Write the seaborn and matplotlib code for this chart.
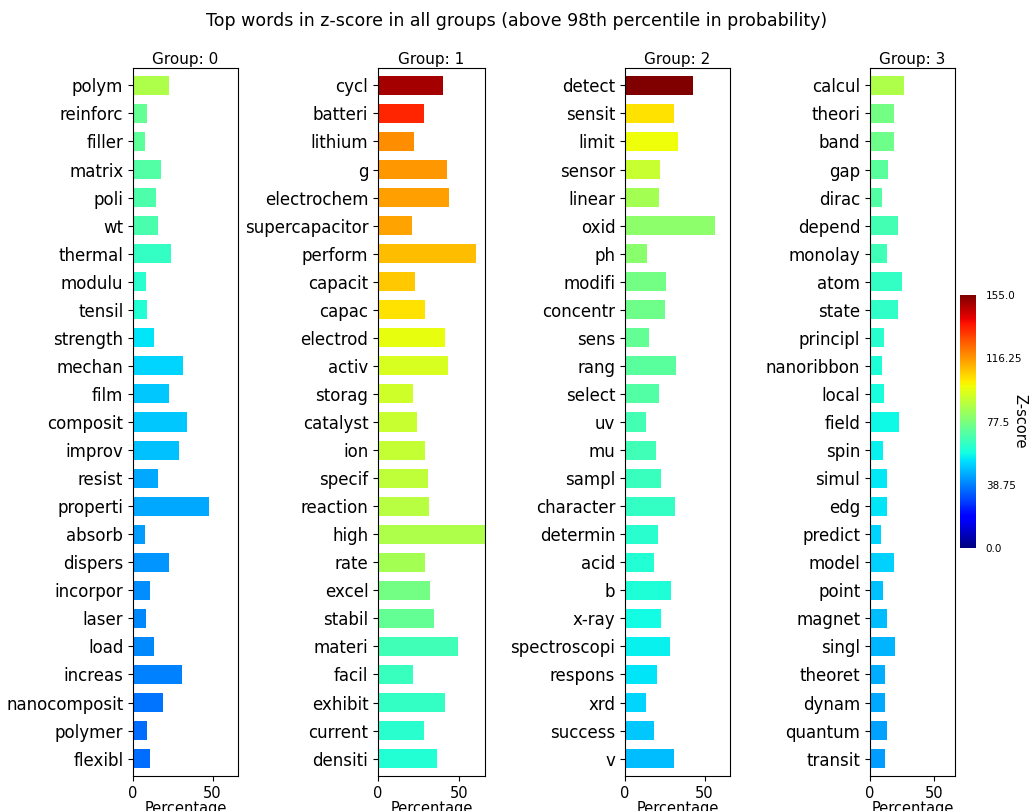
import numpy as np
import pandas as pd
import matplotlib
matplotlib.use("Agg")
import matplotlib.pyplot as plt
import seaborn as sns

# words per group (sorted by z-score, top to bottom)
words_0 = ["polym", "reinforc", "filler", "matrix", "poli", "wt", "thermal", "modulu",
           "tensil", "strength", "mechan", "film", "composit", "improv", "resist",
           "properti", "absorb", "dispers", "incorpor", "laser", "load", "increas",
           "nanocomposit", "polymer", "flexibl"]
pct_0 = [22.8, 9.0, 7.8, 17.3, 14.6, 15.6, 24.1, 8.2, 8.6, 13.4, 31.7, 22.8, 34.0, 29.2,
         15.4, 47.7, 7.8, 22.8, 10.7, 8.2, 13.0, 30.9, 18.9, 8.6, 10.7]
z_0 = [87, 73, 72, 70, 69, 68, 64, 62, 61, 54, 52, 50, 50, 49, 45, 45, 43, 42, 41, 40,
       40, 39, 37, 36, 36]

words_1 = ["cycl", "batteri", "lithium", "g", "electrochem", "supercapacitor", "perform",
           "capacit", "capac", "electrod", "activ", "storag", "catalyst", "ion", "specif",
           "reaction", "high", "rate", "excel", "stabil", "materi", "facil", "exhibit",
           "current", "densiti"]
pct_1 = [40.1, 28.4, 22.0, 42.6, 43.8, 21.2, 60.3, 22.8, 28.8, 41.4, 43.4, 21.6, 24.1,
         29.0, 31.1, 31.5, 66.0, 29.0, 31.9, 34.6, 49.4, 21.6, 41.4, 28.4, 36.2]
z_1 = [150, 135, 118, 116, 115, 114, 110, 108, 104, 98, 95, 93, 92, 91, 90, 89, 87, 85,
       76, 73, 66, 65, 64, 62, 61]

words_2 = ["detect", "sensit", "limit", "sensor", "linear", "oxid", "ph", "modifi",
           "concentr", "sens", "rang", "select", "uv", "mu", "sampl", "character",
           "determin", "acid", "b", "x-ray", "spectroscopi", "respons", "xrd", "success", "v"]
pct_2 = [43.0, 31.1, 33.1, 22.0, 21.6, 56.8, 13.8, 25.7, 25.3, 15.0, 32.3, 21.6, 13.0,
         19.3, 22.8, 31.5, 21.0, 18.5, 29.2, 22.8, 28.4, 19.8, 13.0, 18.5, 30.9]
z_2 = [155, 104, 99, 92, 85, 81, 80, 76, 75, 73, 71, 70, 67, 66, 65, 64, 62, 61, 60, 58,
       56, 54, 52, 50, 48]

words_3 = ["calcul", "theori", "band", "gap", "dirac", "depend", "monolay", "atom", "state",
           "principl", "nanoribbon", "local", "field", "spin", "simul", "edg", "predict",
           "model", "point", "magnet", "singl", "theoret", "dynam", "quantum", "transit"]
pct_3 = [26.6, 18.5, 19.0, 14.1, 9.1, 22.1, 13.5, 24.5, 21.6, 11.2, 9.1, 11.2, 22.7, 9.9,
         13.0, 13.0, 8.6, 18.5, 9.9, 13.5, 19.5, 11.5, 12.0, 13.0, 11.5]
z_3 = [87, 76, 75, 71, 70, 67, 66, 64, 63, 62, 60, 59, 57, 56, 55, 54, 52, 51, 49, 48, 47,
       46, 45, 44, 43]

groups = [(words_0, pct_0, z_0), (words_1, pct_1, z_1),
          (words_2, pct_2, z_2), (words_3, pct_3, z_3)]

z_min, z_max = 0.0, 155.0
cbar_ticks = [0.0, 38.75, 77.5, 116.25, 155.0]
x_max = max(max(p) for _, p, _ in groups)

cmap = plt.get_cmap("jet")
norm = matplotlib.colors.Normalize(vmin=z_min, vmax=z_max)

fig = plt.figure(figsize=(10.34, 8.11), dpi=100)
fig.suptitle("Top words in z-score in all groups (above 98th percentile in probability)",
             fontsize=12.5, y=0.985)

W, H = 1034, 811
ax_boxes = [(133, 238), (378, 485), (625, 730), (870, 955)]
top_px, bot_px = 68, 776

for i, ((words, pct, z), (x0, x1)) in enumerate(zip(groups, ax_boxes)):
    ax = fig.add_axes([x0 / W, 1 - bot_px / H, (x1 - x0) / W, (bot_px - top_px) / H])
    df = pd.DataFrame({"word": words, "pct": pct, "z": z})
    colors = {w: cmap(norm(v)) for w, v in zip(words, z)}
    sns.barplot(data=df, x="pct", y="word", hue="word", palette=colors, legend=False,
                saturation=1, width=0.68, linewidth=0, ax=ax)
    n = len(words)
    ax.set_ylim(n - 1 + 0.62, -0.62)
    ax.set_xlim(0, x_max)
    ax.set_xticks([0, 50])
    ax.set_title(f"Group: {i}", fontsize=11, pad=3)
    ax.set_xlabel("Percentage", fontsize=10.5, labelpad=0)
    ax.set_ylabel("")
    ax.tick_params(axis="y", labelsize=12)
    ax.tick_params(axis="x", labelsize=10.5)

cax = fig.add_axes([960 / W, 1 - 548 / H, 16 / W, (548 - 295) / H])
sm = matplotlib.cm.ScalarMappable(cmap=cmap, norm=norm)
cb = fig.colorbar(sm, cax=cax, ticks=cbar_ticks)
cb.outline.set_visible(False)
cb.ax.tick_params(length=0, pad=7)
cb.ax.set_yticklabels([str(t) for t in cbar_ticks], fontsize=7.5)
cb.set_label("Z-score", rotation=270, fontsize=10.5, labelpad=4)

plt.savefig("out.png", dpi=100)
plt.close()
